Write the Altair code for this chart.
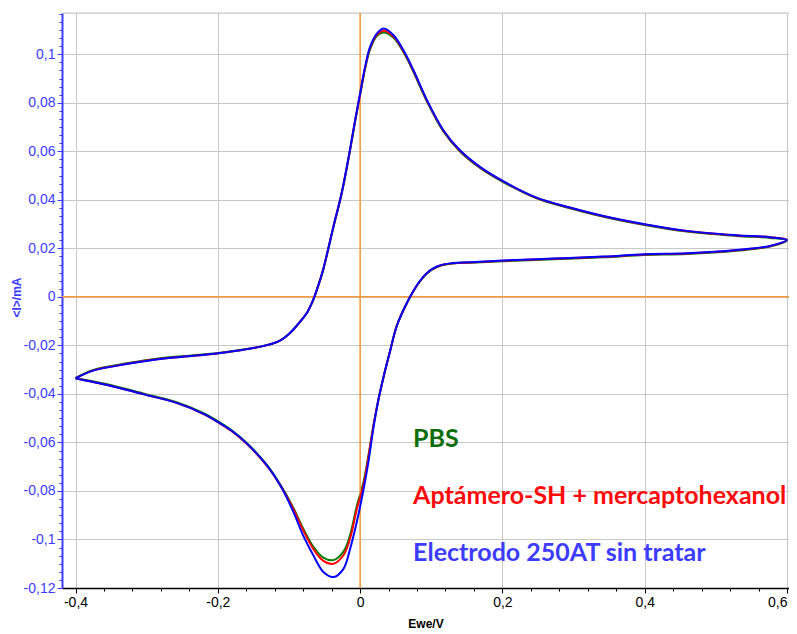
import altair as alt
import pandas as pd

# ---------------- data ----------------
# Potential (V) along the cycle: forward scan -0.4 -> 0.6, then reverse 0.6 -> -0.4
E = [-0.400, -0.375, -0.328, -0.281, -0.234, -0.199, -0.164, -0.131, -0.112, -0.100,
     -0.090, -0.080, -0.074, -0.067, -0.060, -0.052, -0.0375, -0.026, -0.016, -0.007,
     0.000, 0.007, 0.014, 0.0235, 0.0335, 0.047, 0.061, 0.075, 0.094, 0.117,
     0.140, 0.168, 0.201, 0.248, 0.295, 0.342, 0.400, 0.459, 0.529, 0.576, 0.600,
     0.576, 0.529, 0.459, 0.400, 0.342, 0.272, 0.201, 0.155, 0.131, 0.118,
     0.108, 0.101, 0.094, 0.087, 0.080, 0.068, 0.0516, 0.042, 0.033, 0.026,
     0.0187, 0.0117, 0.0047, -0.0047, -0.014, -0.0234, -0.0375, -0.0516, -0.0656, -0.080,
     -0.0937, -0.112, -0.131, -0.159, -0.180, -0.199, -0.220, -0.258, -0.305, -0.351,
     -0.384, -0.400]

# Current (mA) - Electrodo 250AT sin tratar (blue)
I_electrodo = [-0.0336, -0.0304, -0.0277, -0.0256, -0.0243, -0.0232, -0.0218, -0.0199, -0.0179, -0.0153,
               -0.0122, -0.0087, -0.0062, -0.0020, 0.0036, 0.0112, 0.0290, 0.0427, 0.0578, 0.0728,
               0.0838, 0.0948, 0.1030, 0.1085, 0.1106, 0.1078, 0.1016, 0.0934, 0.0811, 0.0687,
               0.0605, 0.0537, 0.0477, 0.0409, 0.0368, 0.0333, 0.0299, 0.0272, 0.0254, 0.0246, 0.0235,
               0.0210, 0.0193, 0.0180, 0.0176, 0.0166, 0.0158, 0.0150, 0.0143, 0.0140, 0.0134,
               0.0125, 0.0114, 0.0098, 0.0076, 0.0049, -0.0012, -0.0119, -0.0225, -0.0329, -0.0420,
               -0.0540, -0.0680, -0.0795, -0.0928, -0.1038, -0.1121, -0.1155, -0.1134, -0.1066, -0.0984,
               -0.0887, -0.0778, -0.0695, -0.0605, -0.0553, -0.0517, -0.0482, -0.0437, -0.0401, -0.0366,
               -0.0346, -0.0336]

# Current (mA) - Aptámero-SH + mercaptohexanol (red)
I_aptamero = [-0.0336, -0.0303, -0.0276, -0.0255, -0.0243, -0.0232, -0.0218, -0.0199, -0.0179, -0.0153,
              -0.0122, -0.0087, -0.0062, -0.0020, 0.0036, 0.0112, 0.0290, 0.0427, 0.0577, 0.0727,
              0.0836, 0.0945, 0.1026, 0.1080, 0.1097, 0.1073, 0.1012, 0.0931, 0.0808, 0.0685,
              0.0603, 0.0535, 0.0476, 0.0408, 0.0367, 0.0332, 0.0298, 0.0271, 0.0253, 0.0246, 0.0235,
              0.0209, 0.0192, 0.0179, 0.0175, 0.0165, 0.0157, 0.0149, 0.0142, 0.0139, 0.0133,
              0.0124, 0.0113, 0.0097, 0.0075, 0.0048, -0.0012, -0.0119, -0.0225, -0.0329, -0.0420,
              -0.0531, -0.0660, -0.0775, -0.0875, -0.0995, -0.1065, -0.1100, -0.1088, -0.1040, -0.0962,
              -0.0875, -0.0778, -0.0697, -0.0607, -0.0555, -0.0518, -0.0483, -0.0437, -0.0401, -0.0366,
              -0.0346, -0.0336]

# Current (mA) - PBS (green)
I_pbs = [-0.0334, -0.0301, -0.0274, -0.0253, -0.0241, -0.0231, -0.0217, -0.0199, -0.0179, -0.0153,
         -0.0122, -0.0087, -0.0062, -0.0021, 0.0035, 0.0110, 0.0287, 0.0424, 0.0574, 0.0723,
         0.0832, 0.0940, 0.1020, 0.1075, 0.1090, 0.1068, 0.1008, 0.0927, 0.0805, 0.0682,
         0.0600, 0.0532, 0.0473, 0.0406, 0.0365, 0.0330, 0.0296, 0.0269, 0.0251, 0.0243, 0.0233,
         0.0207, 0.0190, 0.0177, 0.0173, 0.0163, 0.0155, 0.0147, 0.0141, 0.0138, 0.0132,
         0.0123, 0.0112, 0.0096, 0.0074, 0.0047, -0.0013, -0.0119, -0.0225, -0.0329, -0.0420,
         -0.0531, -0.0654, -0.0764, -0.0862, -0.0980, -0.1050, -0.1085, -0.1075, -0.1030, -0.0955,
         -0.0870, -0.0775, -0.0693, -0.0603, -0.0551, -0.0514, -0.0479, -0.0434, -0.0398, -0.0363,
         -0.0344, -0.0334]

series_names = ["PBS", "Aptámero-SH + mercaptohexanol", "Electrodo 250AT sin tratar"]
line_colors = ["#008000", "#ff0000", "#0000ff"]
text_colors = ["#0b6e0b", "#ff0a0a", "#3c3cff"]
label_E = [0.0745, 0.0745, 0.0745]
label_I = [-0.0619, -0.0853, -0.1087]

x_ticks = [round(-0.4 + 0.04 * k, 2) for k in range(26)]
y_ticks = [round(k / 300, 5) for k in range(-36, 36)]

# ---------------- chart ----------------
X_DOMAIN = [-0.419, 0.6028]
Y_DOMAIN = [-0.12, 0.117]
FONT = "Liberation Sans"

x_major = "abs(datum.value*5 - round(datum.value*5)) < 0.001"
y_major = "abs(datum.value*50 - round(datum.value*50)) < 0.001"

x_axis = alt.Axis(
    values=x_ticks, title="Ewe/V", titleFont=FONT, titleFontSize=12, titleFontWeight="bold",
    titleColor="black", titlePadding=9,
    labelFont=FONT, labelFontSize=14, labelColor="black", labelPadding=2,
    labelExpr=f"{x_major} ? replace(replace(format(datum.value, '.1~f'), '.', ','), '\u2212', '-') : ''",
    labelAlign={"condition": {"test": "datum.value > 0.59", "value": "right"}, "value": "center"},
    labelOverlap=False, labelFlush=False, labelBound=False,
    domainColor="black", domainWidth=1.5, tickColor="black", tickWidth=1,
    tickSize={"condition": {"test": x_major, "value": 5}, "value": 3},
    grid=True, gridColor="#c8c8c8", gridWidth=1,
    gridOpacity={"condition": {"test": x_major, "value": 1}, "value": 0},
)
y_axis = alt.Axis(
    values=y_ticks, title="<I>/mA", titleFont=FONT, titleFontSize=12, titleFontWeight="bold",
    titleColor="#3c3cff", titleX=-39, titleY=284, titleAngle=270, titleBaseline="bottom",
    titleAlign="center",
    labelFont=FONT, labelFontSize=14, labelColor="#3c3cff", labelPadding=2,
    labelExpr=f"{y_major} ? replace(replace(format(datum.value, '.2~f'), '.', ','), '\u2212', '-') : ''",
    labelOverlap=False, labelFlush=False,
    domainColor="#3c3cff", domainWidth=2, tickColor="#3c3cff", tickWidth=1,
    tickSize={"condition": {"test": y_major, "value": 5}, "value": 3},
    grid=True, gridColor="#c8c8c8", gridWidth=1,
    gridOpacity={"condition": {"test": y_major, "value": 1}, "value": 0},
)

xs = alt.Scale(domain=X_DOMAIN, nice=False, zero=False)
ys = alt.Scale(domain=Y_DOMAIN, nice=False, zero=False)


def curve(values, color):
    df = pd.DataFrame({"idx": list(range(len(E))), "E": E, "I": values})
    return alt.Chart(df).mark_line(
        color=color, strokeWidth=2, interpolate="catmull-rom"
    ).encode(
        x=alt.X("E:Q", scale=xs, axis=x_axis),
        y=alt.Y("I:Q", scale=ys, axis=y_axis),
        order="idx:Q",
    )


orange = "#f59a3c"
zero_df = pd.DataFrame({"E": [0.0], "I": [0.0]})
vzero = alt.Chart(zero_df).mark_rule(color=orange, strokeWidth=1.5).encode(
    x=alt.X("E:Q", scale=xs, axis=x_axis))
hzero = alt.Chart(zero_df).mark_rule(color=orange, strokeWidth=1.5).encode(
    y=alt.Y("I:Q", scale=ys, axis=y_axis))
top_border = alt.Chart(zero_df).mark_rule(color="#c8c8c8", strokeWidth=1).encode(
    y=alt.value(0))

lab_df = pd.DataFrame({"name": series_names, "E": label_E, "I": label_I, "c": text_colors})
labels = alt.Chart(lab_df).mark_text(
    align="left", baseline="alphabetic", font="Lato", fontSize=25, fontWeight="bold"
).encode(
    x=alt.X("E:Q", scale=xs, axis=x_axis),
    y=alt.Y("I:Q", scale=ys, axis=y_axis),
    text="name:N",
    color=alt.Color("c:N", scale=None),
)

chart = alt.layer(
    curve(I_pbs, line_colors[0]),
    top_border, vzero, hzero,
    curve(I_aptamero, line_colors[1]),
    curve(I_electrodo, line_colors[2]),
    labels,
).properties(
    width=727, height=575,
    autosize=alt.AutoSizeParams(type="none"),
    padding={"left": 54, "top": 5, "right": 0, "bottom": 43},
).configure_view(stroke=None).configure(background="white")

chart.save("out.html", embed_options={"renderer": "svg", "actions": False})
